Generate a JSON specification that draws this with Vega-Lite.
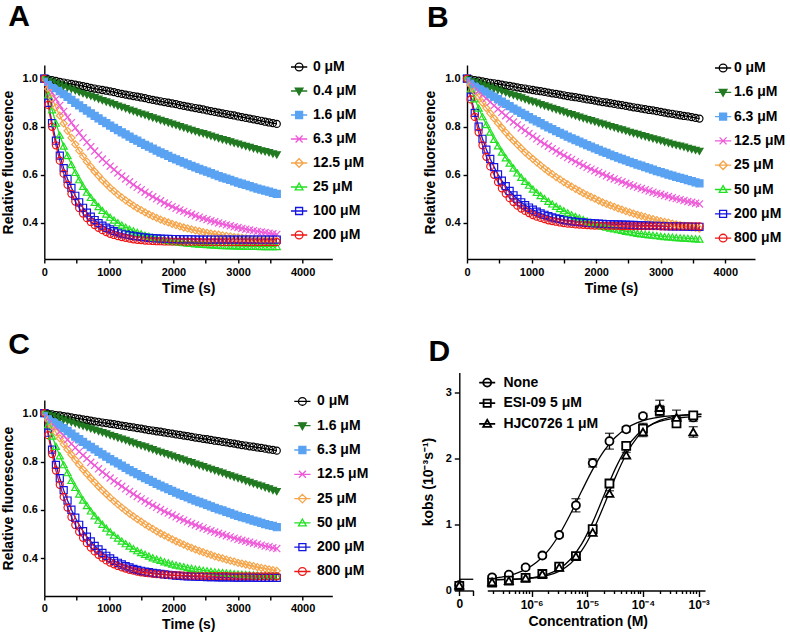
{
"$schema":"https://vega.github.io/schema/vega-lite/v6.json",
"padding":{"left":0.3,"top":2,"right":0,"bottom":0},
"background":"white",
"config":{
"view":{"stroke":null},
"font":"Liberation Sans",
"axis":{"labelFont":"Liberation Sans","labelFontSize":11,"labelFontWeight":"bold","labelColor":"#000","titleFont":"Liberation Sans","titleFontSize":14,"titleFontWeight":"bold","titleColor":"#000","domainColor":"#000","domainWidth":1.4,"tickColor":"#000","tickWidth":1.4,"tickSize":4,"labelPadding":3,"grid":false,"labelFlush":false,"labelOverlap":false},
"axisX":{"titlePadding":4},
"axisY":{"titlePadding":7},
"legend":{"labelFont":"Liberation Sans","labelFontSize":14,"labelFontWeight":"bold","labelColor":"#000"},
"title":{"font":"Liberation Sans","fontSize":30,"fontWeight":"bold","color":"#000","anchor":"start","frame":"group"}
},
"datasets":{
"A":[
{"t":0,"a":1,"b":1,"c":1,"d":1,"e":1,"f":1,"g":1,"h":1},
{"t":60,"a":0.997,"b":0.994,"c":0.987,"d":0.970,"e":0.958,"f":0.932,"g":0.900,"h":0.891},
{"t":120,"a":0.994,"b":0.987,"c":0.974,"d":0.942,"e":0.918,"f":0.871,"g":0.815,"h":0.800},
{"t":180,"a":0.991,"b":0.981,"c":0.961,"d":0.915,"e":0.881,"f":0.815,"g":0.742,"h":0.723},
{"t":240,"a":0.987,"b":0.975,"c":0.948,"d":0.889,"e":0.846,"f":0.765,"g":0.680,"h":0.659},
{"t":300,"a":0.984,"b":0.969,"c":0.936,"d":0.864,"e":0.814,"f":0.720,"g":0.628,"h":0.605},
{"t":360,"a":0.981,"b":0.963,"c":0.924,"d":0.840,"e":0.783,"f":0.680,"g":0.583,"h":0.559},
{"t":420,"a":0.978,"b":0.957,"c":0.912,"d":0.817,"e":0.754,"f":0.643,"g":0.546,"h":0.521},
{"t":480,"a":0.975,"b":0.950,"c":0.900,"d":0.795,"e":0.727,"f":0.610,"g":0.513,"h":0.489},
{"t":540,"a":0.972,"b":0.944,"c":0.889,"d":0.775,"e":0.701,"f":0.580,"g":0.486,"h":0.462},
{"t":600,"a":0.969,"b":0.938,"c":0.878,"d":0.754,"e":0.677,"f":0.552,"g":0.463,"h":0.439},
{"t":660,"a":0.966,"b":0.932,"c":0.867,"d":0.735,"e":0.655,"f":0.528,"g":0.443,"h":0.420},
{"t":720,"a":0.962,"b":0.927,"c":0.856,"d":0.717,"e":0.634,"f":0.506,"g":0.426,"h":0.404},
{"t":780,"a":0.959,"b":0.921,"c":0.845,"d":0.699,"e":0.614,"f":0.486,"g":0.412,"h":0.391},
{"t":840,"a":0.956,"b":0.915,"c":0.835,"d":0.682,"e":0.596,"f":0.468,"g":0.399,"h":0.380},
{"t":900,"a":0.953,"b":0.909,"c":0.825,"d":0.666,"e":0.578,"f":0.452,"g":0.389,"h":0.370},
{"t":960,"a":0.950,"b":0.903,"c":0.815,"d":0.651,"e":0.562,"f":0.437,"g":0.380,"h":0.362},
{"t":1020,"a":0.947,"b":0.898,"c":0.805,"d":0.636,"e":0.546,"f":0.424,"g":0.373,"h":0.355},
{"t":1080,"a":0.944,"b":0.892,"c":0.795,"d":0.622,"e":0.532,"f":0.412,"g":0.366,"h":0.350},
{"t":1140,"a":0.940,"b":0.886,"c":0.786,"d":0.608,"e":0.518,"f":0.401,"g":0.361,"h":0.345},
{"t":1200,"a":0.937,"b":0.881,"c":0.777,"d":0.595,"e":0.506,"f":0.391,"g":0.356,"h":0.341},
{"t":1260,"a":0.934,"b":0.875,"c":0.768,"d":0.583,"e":0.494,"f":0.382,"g":0.352,"h":0.338},
{"t":1320,"a":0.931,"b":0.869,"c":0.759,"d":0.571,"e":0.483,"f":0.374,"g":0.349,"h":0.335},
{"t":1380,"a":0.928,"b":0.864,"c":0.750,"d":0.559,"e":0.472,"f":0.367,"g":0.346,"h":0.332},
{"t":1440,"a":0.925,"b":0.858,"c":0.742,"d":0.548,"e":0.462,"f":0.361,"g":0.344,"h":0.330},
{"t":1500,"a":0.922,"b":0.853,"c":0.733,"d":0.538,"e":0.453,"f":0.355,"g":0.342,"h":0.329},
{"t":1560,"a":0.919,"b":0.848,"c":0.725,"d":0.528,"e":0.444,"f":0.349,"g":0.340,"h":0.327},
{"t":1620,"a":0.915,"b":0.842,"c":0.717,"d":0.518,"e":0.436,"f":0.345,"g":0.338,"h":0.326},
{"t":1680,"a":0.912,"b":0.837,"c":0.709,"d":0.509,"e":0.428,"f":0.340,"g":0.337,"h":0.325},
{"t":1740,"a":0.909,"b":0.832,"c":0.701,"d":0.500,"e":0.421,"f":0.336,"g":0.336,"h":0.324},
{"t":1800,"a":0.906,"b":0.826,"c":0.693,"d":0.492,"e":0.414,"f":0.333,"g":0.335,"h":0.324},
{"t":1860,"a":0.903,"b":0.821,"c":0.686,"d":0.483,"e":0.408,"f":0.330,"g":0.334,"h":0.323},
{"t":1920,"a":0.900,"b":0.816,"c":0.679,"d":0.476,"e":0.402,"f":0.327,"g":0.334,"h":0.323},
{"t":1980,"a":0.897,"b":0.811,"c":0.671,"d":0.468,"e":0.396,"f":0.324,"g":0.333,"h":0.322},
{"t":2040,"a":0.894,"b":0.806,"c":0.664,"d":0.461,"e":0.391,"f":0.322,"g":0.333,"h":0.322},
{"t":2100,"a":0.890,"b":0.800,"c":0.657,"d":0.454,"e":0.386,"f":0.320,"g":0.332,"h":0.322},
{"t":2160,"a":0.887,"b":0.795,"c":0.651,"d":0.448,"e":0.381,"f":0.318,"g":0.332,"h":0.321},
{"t":2220,"a":0.884,"b":0.790,"c":0.644,"d":0.442,"e":0.377,"f":0.316,"g":0.332,"h":0.321},
{"t":2280,"a":0.881,"b":0.785,"c":0.637,"d":0.436,"e":0.373,"f":0.315,"g":0.332,"h":0.321},
{"t":2340,"a":0.878,"b":0.780,"c":0.631,"d":0.430,"e":0.369,"f":0.313,"g":0.331,"h":0.321},
{"t":2400,"a":0.875,"b":0.775,"c":0.625,"d":0.424,"e":0.366,"f":0.312,"g":0.331,"h":0.321},
{"t":2460,"a":0.872,"b":0.771,"c":0.619,"d":0.419,"e":0.362,"f":0.311,"g":0.331,"h":0.320},
{"t":2520,"a":0.868,"b":0.766,"c":0.613,"d":0.414,"e":0.359,"f":0.310,"g":0.331,"h":0.320},
{"t":2580,"a":0.865,"b":0.761,"c":0.607,"d":0.409,"e":0.356,"f":0.309,"g":0.331,"h":0.320},
{"t":2640,"a":0.862,"b":0.756,"c":0.601,"d":0.405,"e":0.353,"f":0.308,"g":0.331,"h":0.320},
{"t":2700,"a":0.859,"b":0.751,"c":0.595,"d":0.400,"e":0.351,"f":0.307,"g":0.331,"h":0.320},
{"t":2760,"a":0.856,"b":0.746,"c":0.589,"d":0.396,"e":0.348,"f":0.306,"g":0.331,"h":0.320},
{"t":2820,"a":0.853,"b":0.742,"c":0.584,"d":0.392,"e":0.346,"f":0.306,"g":0.331,"h":0.320},
{"t":2880,"a":0.850,"b":0.737,"c":0.579,"d":0.388,"e":0.344,"f":0.305,"g":0.331,"h":0.320},
{"t":2940,"a":0.847,"b":0.732,"c":0.573,"d":0.384,"e":0.341,"f":0.305,"g":0.331,"h":0.320},
{"t":3000,"a":0.843,"b":0.728,"c":0.568,"d":0.381,"e":0.340,"f":0.304,"g":0.331,"h":0.320},
{"t":3060,"a":0.840,"b":0.723,"c":0.563,"d":0.377,"e":0.338,"f":0.304,"g":0.331,"h":0.320},
{"t":3120,"a":0.837,"b":0.718,"c":0.558,"d":0.374,"e":0.336,"f":0.303,"g":0.331,"h":0.320},
{"t":3180,"a":0.834,"b":0.714,"c":0.553,"d":0.371,"e":0.334,"f":0.303,"g":0.331,"h":0.320},
{"t":3240,"a":0.831,"b":0.709,"c":0.548,"d":0.368,"e":0.333,"f":0.303,"g":0.331,"h":0.320},
{"t":3300,"a":0.828,"b":0.705,"c":0.543,"d":0.365,"e":0.332,"f":0.303,"g":0.331,"h":0.320},
{"t":3360,"a":0.825,"b":0.700,"c":0.539,"d":0.362,"e":0.330,"f":0.302,"g":0.331,"h":0.320},
{"t":3420,"a":0.821,"b":0.696,"c":0.534,"d":0.360,"e":0.329,"f":0.302,"g":0.331,"h":0.320},
{"t":3480,"a":0.818,"b":0.692,"c":0.530,"d":0.357,"e":0.328,"f":0.302,"g":0.331,"h":0.320},
{"t":3540,"a":0.815,"b":0.687,"c":0.525,"d":0.355,"e":0.327,"f":0.302,"g":0.331,"h":0.320},
{"t":3600,"a":0.812,"b":0.683,"c":0.521,"d":0.352,"e":0.326,"f":0.302,"g":0.331,"h":0.320}
],
"B":[
{"t":0,"a":1,"b":1,"c":1,"d":1,"e":1,"f":1,"g":1,"h":1},
{"t":60,"a":0.997,"b":0.994,"c":0.989,"d":0.983,"e":0.974,"f":0.957,"g":0.925,"h":0.914},
{"t":120,"a":0.994,"b":0.988,"c":0.978,"d":0.966,"e":0.948,"f":0.916,"g":0.858,"h":0.841},
{"t":180,"a":0.992,"b":0.982,"c":0.967,"d":0.949,"e":0.924,"f":0.878,"g":0.801,"h":0.777},
{"t":240,"a":0.989,"b":0.976,"c":0.956,"d":0.933,"e":0.900,"f":0.842,"g":0.750,"h":0.723},
{"t":300,"a":0.986,"b":0.970,"c":0.946,"d":0.918,"e":0.878,"f":0.809,"g":0.705,"h":0.675},
{"t":360,"a":0.983,"b":0.965,"c":0.935,"d":0.903,"e":0.856,"f":0.778,"g":0.666,"h":0.635},
{"t":420,"a":0.981,"b":0.959,"c":0.925,"d":0.888,"e":0.835,"f":0.748,"g":0.632,"h":0.600},
{"t":480,"a":0.978,"b":0.953,"c":0.915,"d":0.874,"e":0.815,"f":0.721,"g":0.602,"h":0.570},
{"t":540,"a":0.975,"b":0.948,"c":0.905,"d":0.860,"e":0.796,"f":0.695,"g":0.576,"h":0.544},
{"t":600,"a":0.972,"b":0.942,"c":0.895,"d":0.846,"e":0.777,"f":0.671,"g":0.553,"h":0.522},
{"t":660,"a":0.970,"b":0.936,"c":0.886,"d":0.833,"e":0.759,"f":0.649,"g":0.533,"h":0.503},
{"t":720,"a":0.967,"b":0.931,"c":0.876,"d":0.820,"e":0.742,"f":0.628,"g":0.515,"h":0.487},
{"t":780,"a":0.964,"b":0.925,"c":0.867,"d":0.808,"e":0.726,"f":0.608,"g":0.500,"h":0.472},
{"t":840,"a":0.961,"b":0.920,"c":0.858,"d":0.795,"e":0.710,"f":0.590,"g":0.486,"h":0.460},
{"t":900,"a":0.959,"b":0.914,"c":0.849,"d":0.784,"e":0.694,"f":0.573,"g":0.474,"h":0.450},
{"t":960,"a":0.956,"b":0.908,"c":0.840,"d":0.772,"e":0.680,"f":0.557,"g":0.464,"h":0.441},
{"t":1020,"a":0.953,"b":0.903,"c":0.831,"d":0.761,"e":0.666,"f":0.541,"g":0.455,"h":0.433},
{"t":1080,"a":0.950,"b":0.898,"c":0.823,"d":0.750,"e":0.652,"f":0.527,"g":0.447,"h":0.426},
{"t":1140,"a":0.948,"b":0.892,"c":0.815,"d":0.739,"e":0.639,"f":0.514,"g":0.440,"h":0.421},
{"t":1200,"a":0.945,"b":0.887,"c":0.806,"d":0.729,"e":0.626,"f":0.502,"g":0.434,"h":0.416},
{"t":1260,"a":0.942,"b":0.882,"c":0.798,"d":0.719,"e":0.614,"f":0.490,"g":0.428,"h":0.411},
{"t":1320,"a":0.939,"b":0.876,"c":0.790,"d":0.709,"e":0.603,"f":0.479,"g":0.423,"h":0.408},
{"t":1380,"a":0.937,"b":0.871,"c":0.782,"d":0.699,"e":0.591,"f":0.469,"g":0.419,"h":0.405},
{"t":1440,"a":0.934,"b":0.866,"c":0.775,"d":0.690,"e":0.581,"f":0.460,"g":0.416,"h":0.402},
{"t":1500,"a":0.931,"b":0.861,"c":0.767,"d":0.681,"e":0.570,"f":0.451,"g":0.412,"h":0.399},
{"t":1560,"a":0.928,"b":0.855,"c":0.759,"d":0.672,"e":0.560,"f":0.442,"g":0.410,"h":0.397},
{"t":1620,"a":0.925,"b":0.850,"c":0.752,"d":0.664,"e":0.551,"f":0.434,"g":0.407,"h":0.396},
{"t":1680,"a":0.923,"b":0.845,"c":0.745,"d":0.655,"e":0.542,"f":0.427,"g":0.405,"h":0.394},
{"t":1740,"a":0.920,"b":0.840,"c":0.738,"d":0.647,"e":0.533,"f":0.420,"g":0.403,"h":0.393},
{"t":1800,"a":0.917,"b":0.835,"c":0.731,"d":0.639,"e":0.524,"f":0.414,"g":0.402,"h":0.392},
{"t":1860,"a":0.914,"b":0.830,"c":0.724,"d":0.631,"e":0.516,"f":0.408,"g":0.400,"h":0.391},
{"t":1920,"a":0.912,"b":0.825,"c":0.717,"d":0.624,"e":0.508,"f":0.402,"g":0.399,"h":0.390},
{"t":1980,"a":0.909,"b":0.820,"c":0.710,"d":0.617,"e":0.501,"f":0.397,"g":0.398,"h":0.389},
{"t":2040,"a":0.906,"b":0.815,"c":0.704,"d":0.610,"e":0.493,"f":0.392,"g":0.397,"h":0.389},
{"t":2100,"a":0.903,"b":0.811,"c":0.697,"d":0.603,"e":0.486,"f":0.387,"g":0.396,"h":0.388},
{"t":2160,"a":0.901,"b":0.806,"c":0.691,"d":0.596,"e":0.479,"f":0.383,"g":0.395,"h":0.388},
{"t":2220,"a":0.898,"b":0.801,"c":0.684,"d":0.589,"e":0.473,"f":0.379,"g":0.395,"h":0.388},
{"t":2280,"a":0.895,"b":0.796,"c":0.678,"d":0.583,"e":0.467,"f":0.375,"g":0.394,"h":0.388},
{"t":2340,"a":0.892,"b":0.791,"c":0.672,"d":0.577,"e":0.461,"f":0.372,"g":0.394,"h":0.388},
{"t":2400,"a":0.890,"b":0.787,"c":0.666,"d":0.571,"e":0.455,"f":0.369,"g":0.393,"h":0.387},
{"t":2460,"a":0.887,"b":0.782,"c":0.660,"d":0.565,"e":0.449,"f":0.365,"g":0.393,"h":0.387},
{"t":2520,"a":0.884,"b":0.777,"c":0.654,"d":0.559,"e":0.444,"f":0.363,"g":0.392,"h":0.387},
{"t":2580,"a":0.881,"b":0.772,"c":0.649,"d":0.554,"e":0.439,"f":0.360,"g":0.392,"h":0.387},
{"t":2640,"a":0.879,"b":0.768,"c":0.643,"d":0.548,"e":0.434,"f":0.357,"g":0.391,"h":0.387},
{"t":2700,"a":0.876,"b":0.763,"c":0.638,"d":0.543,"e":0.429,"f":0.355,"g":0.390,"h":0.387},
{"t":2760,"a":0.873,"b":0.759,"c":0.632,"d":0.538,"e":0.425,"f":0.353,"g":0.390,"h":0.387},
{"t":2820,"a":0.870,"b":0.754,"c":0.627,"d":0.533,"e":0.420,"f":0.351,"g":0.389,"h":0.387},
{"t":2880,"a":0.868,"b":0.750,"c":0.622,"d":0.528,"e":0.416,"f":0.349,"g":0.389,"h":0.387},
{"t":2940,"a":0.865,"b":0.745,"c":0.616,"d":0.523,"e":0.412,"f":0.347,"g":0.388,"h":0.387},
{"t":3000,"a":0.862,"b":0.741,"c":0.611,"d":0.519,"e":0.408,"f":0.345,"g":0.388,"h":0.386},
{"t":3060,"a":0.859,"b":0.736,"c":0.606,"d":0.514,"e":0.404,"f":0.343,"g":0.387,"h":0.386},
{"t":3120,"a":0.856,"b":0.732,"c":0.601,"d":0.510,"e":0.401,"f":0.342,"g":0.387,"h":0.386},
{"t":3180,"a":0.854,"b":0.727,"c":0.597,"d":0.505,"e":0.397,"f":0.341,"g":0.386,"h":0.386},
{"t":3240,"a":0.851,"b":0.723,"c":0.592,"d":0.501,"e":0.394,"f":0.339,"g":0.386,"h":0.386},
{"t":3300,"a":0.848,"b":0.719,"c":0.587,"d":0.497,"e":0.391,"f":0.338,"g":0.386,"h":0.386},
{"t":3360,"a":0.845,"b":0.715,"c":0.583,"d":0.493,"e":0.388,"f":0.337,"g":0.385,"h":0.386},
{"t":3420,"a":0.843,"b":0.710,"c":0.578,"d":0.489,"e":0.385,"f":0.336,"g":0.385,"h":0.386},
{"t":3480,"a":0.840,"b":0.706,"c":0.574,"d":0.486,"e":0.382,"f":0.335,"g":0.384,"h":0.386},
{"t":3540,"a":0.837,"b":0.702,"c":0.569,"d":0.482,"e":0.379,"f":0.334,"g":0.384,"h":0.386},
{"t":3600,"a":0.834,"b":0.698,"c":0.565,"d":0.479,"e":0.376,"f":0.333,"g":0.384,"h":0.386}
],
"C":[
{"t":0,"a":1,"b":1,"c":1,"d":1,"e":1,"f":1,"g":1,"h":1},
{"t":60,"a":0.997,"b":0.995,"c":0.987,"d":0.980,"e":0.972,"f":0.951,"g":0.919,"h":0.909},
{"t":120,"a":0.995,"b":0.989,"c":0.974,"d":0.961,"e":0.946,"f":0.905,"g":0.849,"h":0.831},
{"t":180,"a":0.992,"b":0.984,"c":0.962,"d":0.942,"e":0.920,"f":0.863,"g":0.786,"h":0.763},
{"t":240,"a":0.990,"b":0.978,"c":0.950,"d":0.924,"e":0.896,"f":0.824,"g":0.731,"h":0.704},
{"t":300,"a":0.987,"b":0.973,"c":0.938,"d":0.907,"e":0.872,"f":0.787,"g":0.682,"h":0.654},
{"t":360,"a":0.985,"b":0.968,"c":0.926,"d":0.890,"e":0.850,"f":0.754,"g":0.639,"h":0.610},
{"t":420,"a":0.982,"b":0.962,"c":0.915,"d":0.873,"e":0.828,"f":0.722,"g":0.601,"h":0.571},
{"t":480,"a":0.979,"b":0.957,"c":0.903,"d":0.857,"e":0.807,"f":0.693,"g":0.568,"h":0.538},
{"t":540,"a":0.977,"b":0.951,"c":0.892,"d":0.841,"e":0.787,"f":0.666,"g":0.539,"h":0.510},
{"t":600,"a":0.974,"b":0.946,"c":0.881,"d":0.826,"e":0.767,"f":0.641,"g":0.513,"h":0.485},
{"t":660,"a":0.972,"b":0.941,"c":0.870,"d":0.812,"e":0.749,"f":0.618,"g":0.490,"h":0.463},
{"t":720,"a":0.969,"b":0.935,"c":0.860,"d":0.797,"e":0.731,"f":0.596,"g":0.470,"h":0.445},
{"t":780,"a":0.966,"b":0.930,"c":0.850,"d":0.784,"e":0.714,"f":0.576,"g":0.452,"h":0.429},
{"t":840,"a":0.964,"b":0.924,"c":0.840,"d":0.770,"e":0.697,"f":0.558,"g":0.437,"h":0.415},
{"t":900,"a":0.961,"b":0.919,"c":0.830,"d":0.757,"e":0.681,"f":0.541,"g":0.423,"h":0.403},
{"t":960,"a":0.959,"b":0.914,"c":0.820,"d":0.745,"e":0.666,"f":0.525,"g":0.411,"h":0.392},
{"t":1020,"a":0.956,"b":0.908,"c":0.810,"d":0.732,"e":0.651,"f":0.510,"g":0.400,"h":0.383},
{"t":1080,"a":0.954,"b":0.903,"c":0.801,"d":0.720,"e":0.637,"f":0.496,"g":0.390,"h":0.376},
{"t":1140,"a":0.951,"b":0.897,"c":0.792,"d":0.709,"e":0.623,"f":0.484,"g":0.382,"h":0.369},
{"t":1200,"a":0.948,"b":0.892,"c":0.783,"d":0.698,"e":0.610,"f":0.472,"g":0.375,"h":0.363},
{"t":1260,"a":0.946,"b":0.887,"c":0.774,"d":0.687,"e":0.597,"f":0.461,"g":0.368,"h":0.358},
{"t":1320,"a":0.943,"b":0.881,"c":0.765,"d":0.676,"e":0.585,"f":0.451,"g":0.363,"h":0.353},
{"t":1380,"a":0.941,"b":0.876,"c":0.756,"d":0.666,"e":0.574,"f":0.441,"g":0.357,"h":0.350},
{"t":1440,"a":0.938,"b":0.870,"c":0.748,"d":0.656,"e":0.562,"f":0.432,"g":0.353,"h":0.346},
{"t":1500,"a":0.936,"b":0.865,"c":0.740,"d":0.646,"e":0.552,"f":0.424,"g":0.349,"h":0.343},
{"t":1560,"a":0.933,"b":0.860,"c":0.732,"d":0.637,"e":0.541,"f":0.417,"g":0.346,"h":0.341},
{"t":1620,"a":0.930,"b":0.854,"c":0.724,"d":0.628,"e":0.531,"f":0.410,"g":0.343,"h":0.339},
{"t":1680,"a":0.928,"b":0.849,"c":0.716,"d":0.619,"e":0.522,"f":0.403,"g":0.340,"h":0.337},
{"t":1740,"a":0.925,"b":0.843,"c":0.708,"d":0.611,"e":0.512,"f":0.397,"g":0.338,"h":0.335},
{"t":1800,"a":0.923,"b":0.838,"c":0.701,"d":0.602,"e":0.503,"f":0.392,"g":0.336,"h":0.334},
{"t":1860,"a":0.920,"b":0.833,"c":0.693,"d":0.594,"e":0.495,"f":0.386,"g":0.334,"h":0.333},
{"t":1920,"a":0.917,"b":0.827,"c":0.686,"d":0.587,"e":0.487,"f":0.382,"g":0.332,"h":0.332},
{"t":1980,"a":0.915,"b":0.822,"c":0.679,"d":0.579,"e":0.479,"f":0.377,"g":0.331,"h":0.331},
{"t":2040,"a":0.912,"b":0.816,"c":0.672,"d":0.572,"e":0.471,"f":0.373,"g":0.329,"h":0.330},
{"t":2100,"a":0.910,"b":0.811,"c":0.665,"d":0.564,"e":0.464,"f":0.369,"g":0.328,"h":0.330},
{"t":2160,"a":0.907,"b":0.806,"c":0.658,"d":0.558,"e":0.457,"f":0.366,"g":0.327,"h":0.329},
{"t":2220,"a":0.905,"b":0.800,"c":0.652,"d":0.551,"e":0.450,"f":0.362,"g":0.326,"h":0.329},
{"t":2280,"a":0.902,"b":0.795,"c":0.645,"d":0.544,"e":0.444,"f":0.359,"g":0.326,"h":0.328},
{"t":2340,"a":0.899,"b":0.789,"c":0.639,"d":0.538,"e":0.437,"f":0.356,"g":0.325,"h":0.328},
{"t":2400,"a":0.897,"b":0.784,"c":0.633,"d":0.532,"e":0.431,"f":0.354,"g":0.324,"h":0.328},
{"t":2460,"a":0.894,"b":0.779,"c":0.627,"d":0.526,"e":0.426,"f":0.351,"g":0.324,"h":0.327},
{"t":2520,"a":0.892,"b":0.773,"c":0.621,"d":0.520,"e":0.420,"f":0.349,"g":0.323,"h":0.327},
{"t":2580,"a":0.889,"b":0.768,"c":0.615,"d":0.514,"e":0.415,"f":0.347,"g":0.323,"h":0.327},
{"t":2640,"a":0.886,"b":0.762,"c":0.609,"d":0.509,"e":0.409,"f":0.345,"g":0.323,"h":0.327},
{"t":2700,"a":0.884,"b":0.757,"c":0.603,"d":0.504,"e":0.404,"f":0.343,"g":0.322,"h":0.327},
{"t":2760,"a":0.881,"b":0.752,"c":0.598,"d":0.499,"e":0.400,"f":0.342,"g":0.322,"h":0.327},
{"t":2820,"a":0.879,"b":0.746,"c":0.592,"d":0.494,"e":0.395,"f":0.340,"g":0.322,"h":0.327},
{"t":2880,"a":0.876,"b":0.741,"c":0.587,"d":0.489,"e":0.391,"f":0.339,"g":0.322,"h":0.326},
{"t":2940,"a":0.874,"b":0.735,"c":0.581,"d":0.484,"e":0.387,"f":0.337,"g":0.321,"h":0.326},
{"t":3000,"a":0.871,"b":0.730,"c":0.576,"d":0.479,"e":0.382,"f":0.336,"g":0.321,"h":0.326},
{"t":3060,"a":0.868,"b":0.725,"c":0.571,"d":0.475,"e":0.379,"f":0.335,"g":0.321,"h":0.326},
{"t":3120,"a":0.866,"b":0.719,"c":0.566,"d":0.471,"e":0.375,"f":0.334,"g":0.321,"h":0.326},
{"t":3180,"a":0.863,"b":0.714,"c":0.561,"d":0.467,"e":0.371,"f":0.333,"g":0.321,"h":0.326},
{"t":3240,"a":0.861,"b":0.708,"c":0.556,"d":0.463,"e":0.368,"f":0.332,"g":0.321,"h":0.326},
{"t":3300,"a":0.858,"b":0.703,"c":0.552,"d":0.459,"e":0.364,"f":0.331,"g":0.320,"h":0.326},
{"t":3360,"a":0.856,"b":0.698,"c":0.547,"d":0.455,"e":0.361,"f":0.330,"g":0.320,"h":0.326},
{"t":3420,"a":0.853,"b":0.692,"c":0.542,"d":0.451,"e":0.358,"f":0.329,"g":0.320,"h":0.326},
{"t":3480,"a":0.850,"b":0.687,"c":0.538,"d":0.448,"e":0.355,"f":0.329,"g":0.320,"h":0.326},
{"t":3540,"a":0.848,"b":0.681,"c":0.534,"d":0.444,"e":0.352,"f":0.328,"g":0.320,"h":0.326},
{"t":3600,"a":0.845,"b":0.676,"c":0.529,"d":0.441,"e":0.349,"f":0.328,"g":0.320,"h":0.326}
],
"D":[
{"g":"n","c":1.95e-7,"y":0.20,"lo":0.18,"hi":0.22},
{"g":"n","c":3.9e-7,"y":0.24,"lo":0.22,"hi":0.26},
{"g":"n","c":7.8e-7,"y":0.35,"lo":0.32,"hi":0.38},
{"g":"n","c":1.56e-6,"y":0.53,"lo":0.50,"hi":0.56},
{"g":"n","c":3.125e-6,"y":0.84,"lo":0.81,"hi":0.87},
{"g":"n","c":6.25e-6,"y":1.29,"lo":1.19,"hi":1.39},
{"g":"n","c":1.25e-5,"y":1.93,"lo":1.87,"hi":1.99},
{"g":"n","c":2.5e-5,"y":2.26,"lo":2.14,"hi":2.38},
{"g":"n","c":5e-5,"y":2.44,"lo":2.40,"hi":2.48},
{"g":"n","c":1e-4,"y":2.64,"lo":2.60,"hi":2.68},
{"g":"n","c":2e-4,"y":2.73,"lo":2.68,"hi":2.78},
{"g":"n","c":4e-4,"y":2.58,"lo":2.53,"hi":2.63},
{"g":"n","c":8e-4,"y":2.62,"lo":2.56,"hi":2.68},
{"g":"e","c":1.95e-7,"y":0.12,"lo":0.10,"hi":0.14},
{"g":"e","c":3.9e-7,"y":0.15,"lo":0.13,"hi":0.17},
{"g":"e","c":7.8e-7,"y":0.19,"lo":0.17,"hi":0.21},
{"g":"e","c":1.56e-6,"y":0.25,"lo":0.23,"hi":0.27},
{"g":"e","c":3.125e-6,"y":0.36,"lo":0.33,"hi":0.39},
{"g":"e","c":6.25e-6,"y":0.52,"lo":0.49,"hi":0.55},
{"g":"e","c":1.25e-5,"y":0.93,"lo":0.89,"hi":0.97},
{"g":"e","c":2.5e-5,"y":1.62,"lo":1.58,"hi":1.66},
{"g":"e","c":5e-5,"y":2.19,"lo":2.15,"hi":2.23},
{"g":"e","c":1e-4,"y":2.45,"lo":2.37,"hi":2.53},
{"g":"e","c":2e-4,"y":2.72,"lo":2.64,"hi":2.80},
{"g":"e","c":4e-4,"y":2.53,"lo":2.48,"hi":2.58},
{"g":"e","c":8e-4,"y":2.65,"lo":2.60,"hi":2.70},
{"g":"h","c":1.95e-7,"y":0.13,"lo":0.11,"hi":0.15},
{"g":"h","c":3.9e-7,"y":0.15,"lo":0.13,"hi":0.17},
{"g":"h","c":7.8e-7,"y":0.19,"lo":0.17,"hi":0.21},
{"g":"h","c":1.56e-6,"y":0.25,"lo":0.23,"hi":0.27},
{"g":"h","c":3.125e-6,"y":0.35,"lo":0.32,"hi":0.38},
{"g":"h","c":6.25e-6,"y":0.52,"lo":0.49,"hi":0.55},
{"g":"h","c":1.25e-5,"y":0.88,"lo":0.85,"hi":0.91},
{"g":"h","c":2.5e-5,"y":1.47,"lo":1.43,"hi":1.51},
{"g":"h","c":5e-5,"y":2.05,"lo":2.01,"hi":2.09},
{"g":"h","c":1e-4,"y":2.40,"lo":2.33,"hi":2.47},
{"g":"h","c":2e-4,"y":2.77,"lo":2.66,"hi":2.88},
{"g":"h","c":4e-4,"y":2.62,"lo":2.51,"hi":2.73},
{"g":"h","c":8e-4,"y":2.40,"lo":2.32,"hi":2.48}
],
"D0":[
{"g":"n","c":0,"y":0.08},
{"g":"e","c":0,"y":0.07},
{"g":"h","c":0,"y":0.08}
],
"D0line":[{"c":0,"c2":1,"y":0.17}],
"Dfit":[
{"c":2.0e-7,"n":0.185,"e":0.163,"h":0.163},
{"c":3.16e-7,"n":0.210,"e":0.167,"h":0.165},
{"c":5.01e-7,"n":0.252,"e":0.173,"h":0.170},
{"c":7.94e-7,"n":0.323,"e":0.185,"h":0.179},
{"c":1.26e-6,"n":0.435,"e":0.207,"h":0.197},
{"c":2.0e-6,"n":0.607,"e":0.251,"h":0.231},
{"c":3.16e-6,"n":0.851,"e":0.331,"h":0.294},
{"c":5.01e-6,"n":1.161,"e":0.473,"h":0.409},
{"c":7.94e-6,"n":1.506,"e":0.705,"h":0.604},
{"c":1.26e-5,"n":1.837,"e":1.039,"h":0.901},
{"c":2.0e-5,"n":2.113,"e":1.443,"h":1.290},
{"c":3.16e-5,"n":2.315,"e":1.837,"h":1.705},
{"c":5.01e-5,"n":2.453,"e":2.152,"h":2.063},
{"c":7.94e-5,"n":2.540,"e":2.362,"h":2.321},
{"c":1.26e-4,"n":2.594,"e":2.490,"h":2.482},
{"c":2.0e-4,"n":2.626,"e":2.560,"h":2.575},
{"c":3.16e-4,"n":2.644,"e":2.599,"h":2.625},
{"c":5.01e-4,"n":2.655,"e":2.619,"h":2.651},
{"c":7.94e-4,"n":2.661,"e":2.629,"h":2.665},
{"c":1.12e-3,"n":2.664,"e":2.633,"h":2.671}
]
},
"spacing":51.7,
"resolve":{"scale":{"x":"independent","y":"independent","color":"independent","stroke":"independent","fill":"independent","shape":"independent"},"legend":{"stroke":"independent","fill":"independent","shape":"independent"}},
"hconcat":[
{"spacing":35,
"resolve":{"scale":{"x":"independent","y":"independent","color":"independent","stroke":"independent","fill":"independent","shape":"independent"},"legend":{"stroke":"independent","fill":"independent","shape":"independent"}},
"vconcat":[
{
"width":288,"height":194,
"title":{"text":"A","dx":-36,"offset":28},
"data":{"name":"A"},
"transform":[{"fold":["a","b","c","d","e","f","g","h"],"as":["k","v"]}],
"encoding":{
"x":{"field":"t","type":"quantitative","scale":{"domain":[0,4460],"nice":false},"axis":{"title":"Time (s)","values":[0,500,1000,1500,2000,2500,3000,3500,4000],"format":"d","labelExpr":"datum.value % 1000 == 0 ? datum.label : ''"}},
"y":{"field":"v","type":"quantitative","scale":{"domain":[0.25,1.057],"nice":false,"zero":false},"axis":{"title":"Relative fluorescence","values":[0.4,0.6,0.8,1.0],"format":".1f"}},
"stroke":{"field":"k","type":"nominal","scale":{"domain":["a","b","c","d","e","f","g","h"],"range":["#000000","#217a21","#5aa2f2","#ee5ad8","#f5a54a","#22e022","#1414e0","#ee1515"]},
"legend":{"orient":"none","legendX":247.8,"legendY":-5,"title":null,"padding":0,"labelOffset":6.8,"rowPadding":10,"symbolSize":60,"symbolStrokeWidth":1.3,
"labelExpr":"['0 μM','0.4 μM','1.6 μM','6.3 μM','12.5 μM','25 μM','100 μM','200 μM'][indexof('abcdefgh',datum.value)]",
"encode":{"symbols":{"update":{
"shape":{"signal":"['M-2.1,0L2.1,0M1,0A1,1,0,1,1,-1,0A1,1,0,1,1,1,0','M-2.1,0L2.1,0M-1,-0.75L1,-0.75L0,1Z','M-2.1,0L2.1,0M-0.9,-0.9L0.9,-0.9L0.9,0.9L-0.9,0.9Z','M-2.1,0L2.1,0M-0.9,-0.9L0.9,0.9M-0.9,0.9L0.9,-0.9','M-2.1,0L2.1,0M0,-1.1L1.1,0L0,1.1L-1.1,0Z','M-2.1,0L2.1,0M0,-1L1,0.75L-1,0.75Z','M-2.1,0L2.1,0M-0.9,-0.9L0.9,-0.9L0.9,0.9L-0.9,0.9Z','M-2.1,0L2.1,0M1,0A1,1,0,1,1,-1,0A1,1,0,1,1,1,0'][indexof('abcdefgh',datum.value)]"},
"fill":{"signal":"['transparent','#217a21','#5aa2f2','transparent','transparent','transparent','transparent','transparent'][indexof('abcdefgh',datum.value)]"}
}}}}}
},
"layer":[
{"mark":{"type":"line","strokeWidth":1.3}},
{"mark":{"type":"point","size":50,"strokeWidth":1.2,"opacity":1},
"encoding":{
"shape":{"field":"k","type":"nominal","legend":null,"scale":{"domain":["a","b","c","d","e","f","g","h","z"],"range":["circle","triangle-down","square","M-1,-1L1,1M-1,1L1,-1","diamond","triangle-up","square","circle","circle"]}},
"fill":{"field":"k","type":"nominal","legend":null,"scale":{"domain":["a","b","c","d","e","f","g","h","y"],"range":["transparent","#217a21","#5aa2f2","transparent","transparent","transparent","transparent","transparent","transparent"]}}
}}
]
},
{
"width":288,"height":196,
"title":{"text":"C","dx":-36,"offset":34},
"data":{"name":"C"},
"transform":[{"fold":["a","b","c","d","e","f","g","h"],"as":["k","v"]}],
"encoding":{
"x":{"field":"t","type":"quantitative","scale":{"domain":[0,4460],"nice":false},"axis":{"title":"Time (s)","values":[0,500,1000,1500,2000,2500,3000,3500,4000],"format":"d","labelExpr":"datum.value % 1000 == 0 ? datum.label : ''"}},
"y":{"field":"v","type":"quantitative","scale":{"domain":[0.245,1.054],"nice":false,"zero":false},"axis":{"title":"Relative fluorescence","values":[0.4,0.6,0.8,1.0],"format":".1f"}},
"stroke":{"field":"k","type":"nominal","scale":{"domain":["a","b","c","d","e","f","g","h"],"range":["#000000","#217a21","#5aa2f2","#ee5ad8","#f5a54a","#22e022","#1414e0","#ee1515"]},
"legend":{"orient":"none","legendX":251.1,"legendY":-5.6,"title":null,"padding":0,"labelOffset":7.6,"rowPadding":10.3,"symbolSize":60,"symbolStrokeWidth":1.3,
"labelExpr":"['0 μM','1.6 μM','6.3 μM','12.5 μM','25 μM','50 μM','200 μM','800 μM'][indexof('abcdefgh',datum.value)]",
"encode":{"symbols":{"update":{
"shape":{"signal":"['M-2.1,0L2.1,0M1,0A1,1,0,1,1,-1,0A1,1,0,1,1,1,0','M-2.1,0L2.1,0M-1,-0.75L1,-0.75L0,1Z','M-2.1,0L2.1,0M-0.9,-0.9L0.9,-0.9L0.9,0.9L-0.9,0.9Z','M-2.1,0L2.1,0M-0.9,-0.9L0.9,0.9M-0.9,0.9L0.9,-0.9','M-2.1,0L2.1,0M0,-1.1L1.1,0L0,1.1L-1.1,0Z','M-2.1,0L2.1,0M0,-1L1,0.75L-1,0.75Z','M-2.1,0L2.1,0M-0.9,-0.9L0.9,-0.9L0.9,0.9L-0.9,0.9Z','M-2.1,0L2.1,0M1,0A1,1,0,1,1,-1,0A1,1,0,1,1,1,0'][indexof('abcdefgh',datum.value)]"},
"fill":{"signal":"['transparent','#217a21','#5aa2f2','transparent','transparent','transparent','transparent','transparent'][indexof('abcdefgh',datum.value)]"}
}}}}}
},
"layer":[
{"mark":{"type":"line","strokeWidth":1.3}},
{"mark":{"type":"point","size":50,"strokeWidth":1.2,"opacity":1},
"encoding":{
"shape":{"field":"k","type":"nominal","legend":null,"scale":{"domain":["a","b","c","d","e","f","g","h","z"],"range":["circle","triangle-down","square","M-1,-1L1,1M-1,1L1,-1","diamond","triangle-up","square","circle","circle"]}},
"fill":{"field":"k","type":"nominal","legend":null,"scale":{"domain":["a","b","c","d","e","f","g","h","y"],"range":["transparent","#217a21","#5aa2f2","transparent","transparent","transparent","transparent","transparent","transparent"]}}
}}
]
}
]},
{"spacing":42.5,
"resolve":{"scale":{"x":"independent","y":"independent","color":"independent","stroke":"independent","fill":"independent","shape":"independent"},"legend":{"stroke":"independent","fill":"independent","shape":"independent"}},
"vconcat":[
{
"width":288,"height":194,
"title":{"text":"B","dx":-40,"offset":28},
"data":{"name":"B"},
"transform":[{"fold":["a","b","c","d","e","f","g","h"],"as":["k","v"]}],
"encoding":{
"x":{"field":"t","type":"quantitative","scale":{"domain":[0,4460],"nice":false},"axis":{"title":"Time (s)","values":[0,500,1000,1500,2000,2500,3000,3500,4000],"format":"d","labelExpr":"datum.value % 1000 == 0 ? datum.label : ''"}},
"y":{"field":"v","type":"quantitative","scale":{"domain":[0.25,1.057],"nice":false,"zero":false},"axis":{"title":"Relative fluorescence","values":[0.4,0.6,0.8,1.0],"format":".1f"}},
"stroke":{"field":"k","type":"nominal","scale":{"domain":["a","b","c","d","e","f","g","h"],"range":["#000000","#217a21","#5aa2f2","#ee5ad8","#f5a54a","#22e022","#1414e0","#ee1515"]},
"legend":{"orient":"none","legendX":249.1,"legendY":-4,"title":null,"padding":0,"labelOffset":3.8,"rowPadding":10.3,"symbolSize":60,"symbolStrokeWidth":1.3,
"labelExpr":"['0 μM','1.6 μM','6.3 μM','12.5 μM','25 μM','50 μM','200 μM','800 μM'][indexof('abcdefgh',datum.value)]",
"encode":{"symbols":{"update":{
"shape":{"signal":"['M-2.1,0L2.1,0M1,0A1,1,0,1,1,-1,0A1,1,0,1,1,1,0','M-2.1,0L2.1,0M-1,-0.75L1,-0.75L0,1Z','M-2.1,0L2.1,0M-0.9,-0.9L0.9,-0.9L0.9,0.9L-0.9,0.9Z','M-2.1,0L2.1,0M-0.9,-0.9L0.9,0.9M-0.9,0.9L0.9,-0.9','M-2.1,0L2.1,0M0,-1.1L1.1,0L0,1.1L-1.1,0Z','M-2.1,0L2.1,0M0,-1L1,0.75L-1,0.75Z','M-2.1,0L2.1,0M-0.9,-0.9L0.9,-0.9L0.9,0.9L-0.9,0.9Z','M-2.1,0L2.1,0M1,0A1,1,0,1,1,-1,0A1,1,0,1,1,1,0'][indexof('abcdefgh',datum.value)]"},
"fill":{"signal":"['transparent','#217a21','#5aa2f2','transparent','transparent','transparent','transparent','transparent'][indexof('abcdefgh',datum.value)]"}
}}}}}
},
"layer":[
{"mark":{"type":"line","strokeWidth":1.3}},
{"mark":{"type":"point","size":50,"strokeWidth":1.2,"opacity":1},
"encoding":{
"shape":{"field":"k","type":"nominal","legend":null,"scale":{"domain":["a","b","c","d","e","f","g","h","z"],"range":["circle","triangle-down","square","M-1,-1L1,1M-1,1L1,-1","diamond","triangle-up","square","circle","circle"]}},
"fill":{"field":"k","type":"nominal","legend":null,"scale":{"domain":["a","b","c","d","e","f","g","h","y"],"range":["transparent","#217a21","#5aa2f2","transparent","transparent","transparent","transparent","transparent","transparent"]}}
}}
]
},
{
"width":238,"height":218,
"title":{"text":"D","dx":-38.4,"offset":5},
"encoding":{
"y":{"field":"y","type":"quantitative","scale":{"domain":[0,3.3],"nice":false,"zero":false},"axis":{"title":"kobs (10⁻³s⁻¹)","values":[0,1,2,3],"offset":7.7,"titlePadding":10,"tickSize":5}},
"stroke":{"field":"g","type":"nominal","scale":{"domain":["n","e","h"],"range":["#000000","#000000","#000000"]},
"legend":{"orient":"none","legendX":13.2,"legendY":3.1,"title":null,"padding":0,"labelOffset":9.2,"rowPadding":4.6,"symbolSize":64,"symbolStrokeWidth":1.8,
"labelExpr":"['None','ESI-09 5 μM','HJC0726 1 μM'][indexof('neh',datum.value)]",
"encode":{"symbols":{"update":{
"shape":{"signal":"['M-2,0L2,0M1,0A1,1,0,1,1,-1,0A1,1,0,1,1,1,0','M-2,0L2,0M-0.9,-0.9L0.9,-0.9L0.9,0.9L-0.9,0.9Z','M-2,0L2,0M0,-1L1,0.75L-1,0.75Z'][indexof('neh',datum.value)]"},
"fill":{"signal":"['white','white','white'][indexof('neh',datum.value)]"}}}}}}
},
"resolve":{"scale":{"x":"independent"},"axis":{"x":"independent"}},
"layer":[
{
"encoding":{"x":{"field":"c","type":"quantitative","scale":{"domain":[0,1],"range":[-7.7,6.3],"nice":false,"zero":false},"axis":{"orient":"bottom","values":[0,1],"labelExpr":"datum.value == 0 ? '0' : ''","title":null,"tickSize":5,"labelFontSize":12}}},
"layer":[
{"data":{"name":"D0line"},"mark":{"type":"rule","strokeWidth":1.3,"color":"#000"},"encoding":{"x2":{"field":"c2"},"stroke":{"value":"#000"}}},
{"data":{"name":"D0"},"mark":{"type":"point","size":64,"strokeWidth":1.8,"opacity":1},
"encoding":{
"shape":{"field":"g","type":"nominal","legend":null,"scale":{"domain":["n","e","h","x"],"range":["circle","square","triangle-up","circle"]}},
"fill":{"field":"g","type":"nominal","legend":null,"scale":{"domain":["n","e","h","y"],"range":["white","white","white","white"]}}}}
]
},
{
"encoding":{"x":{"field":"c","type":"quantitative","scale":{"type":"log","domain":[1.6e-7,1.3e-3],"range":[20.3,238],"nice":false},
"axis":{"orient":"bottom","title":"Concentration (M)","titleX":120.7,"labelFontSize":12,
"values":[2e-7,3e-7,4e-7,5e-7,6e-7,7e-7,8e-7,9e-7,1e-6,2e-6,3e-6,4e-6,5e-6,6e-6,7e-6,8e-6,9e-6,1e-5,2e-5,3e-5,4e-5,5e-5,6e-5,7e-5,8e-5,9e-5,1e-4,2e-4,3e-4,4e-4,5e-4,6e-4,7e-4,8e-4,9e-4,1e-3],
"labelExpr":"abs(log(datum.value)/LN10-round(log(datum.value)/LN10))<0.01 ? '10'+['⁰','⁻¹','⁻²','⁻³','⁻⁴','⁻⁵','⁻⁶','⁻⁷'][-round(log(datum.value)/LN10)] : ''",
"tickSize":{"condition":{"test":"abs(log(datum.value)/LN10-round(log(datum.value)/LN10))<0.01","value":6},"value":3}}}},
"layer":[
{"data":{"name":"Dfit"},"transform":[{"fold":["n","e","h"],"as":["s","y"]}],"mark":{"type":"line","color":"#000","strokeWidth":1.3,"interpolate":"monotone"},"encoding":{"detail":{"field":"s","type":"nominal"},"stroke":{"value":"#000"}}},
{"data":{"name":"D"},"mark":{"type":"rule","color":"#000","strokeWidth":1.4},"encoding":{"y":{"field":"lo","type":"quantitative"},"y2":{"field":"hi"}}},
{"data":{"name":"D"},"mark":{"type":"tick","orient":"horizontal","color":"#000","size":9,"thickness":1.4,"strokeWidth":0},"encoding":{"y":{"field":"hi","type":"quantitative"}}},
{"data":{"name":"D"},"mark":{"type":"tick","orient":"horizontal","color":"#000","size":9,"thickness":1.4,"strokeWidth":0},"encoding":{"y":{"field":"lo","type":"quantitative"}}},
{"data":{"name":"D"},"mark":{"type":"point","size":64,"strokeWidth":1.8,"opacity":1},
"encoding":{
"shape":{"field":"g","type":"nominal","legend":null,"scale":{"domain":["n","e","h","x"],"range":["circle","square","triangle-up","circle"]}},
"fill":{"field":"g","type":"nominal","legend":null,"scale":{"domain":["n","e","h","y"],"range":["white","white","white","white"]}}}}
]
}
]
}
]}
]
}
